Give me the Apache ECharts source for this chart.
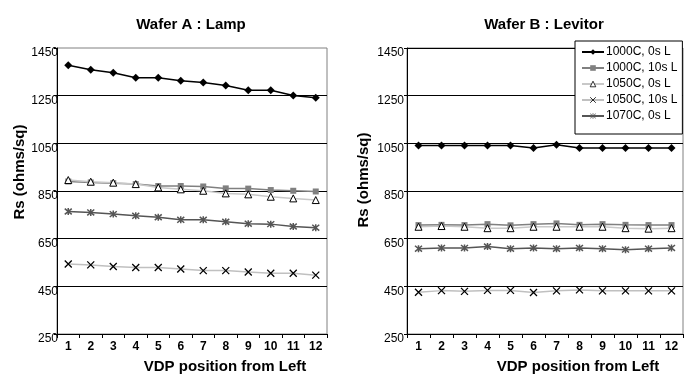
<!DOCTYPE html>
<html>
<head>
<meta charset="utf-8">
<script src="https://cdn.jsdelivr.net/npm/echarts@6/dist/echarts.min.js"></script>
<style>
  html, body { margin: 0; padding: 0; background: #fff; }
  #chart { width: 693px; height: 379px; }
</style>
</head>
<body>
<div id="chart"></div>
<script>
const positions = ["1", "2", "3", "4", "5", "6", "7", "8", "9", "10", "11", "12"];
const yTicks = [250, 450, 650, 850, 1050, 1250, 1450];
const seriesNames = ["1000C, 0s L", "1000C, 10s L", "1050C, 0s L", "1050C, 10s L", "1070C, 0s L"];

// Wafer A : Lamp
const lamp1000_0 = [1378, 1359, 1346, 1325, 1325, 1313, 1305, 1293, 1273, 1273, 1251, 1241];
const lamp1000_10 = [890, 886, 883, 879, 871, 871, 869, 861, 860, 854, 851, 848];
const lamp1050_0 = [896, 889, 885, 879, 865, 857, 851, 840, 836, 826, 819, 812];
const lamp1050_10 = [544, 540, 533, 529, 529, 523, 516, 516, 510, 505, 505, 497];
const lamp1070_0 = [764, 760, 753, 746, 740, 729, 729, 721, 713, 711, 701, 696];

// Wafer B : Levitor
const lev1000_0 = [1041, 1041, 1041, 1041, 1041, 1030, 1044, 1030, 1030, 1030, 1030, 1030];
const lev1000_10 = [707, 708, 707, 711, 706, 711, 714, 708, 711, 708, 707, 707];
const lev1050_0 = [700, 703, 700, 694, 694, 700, 700, 700, 700, 694, 692, 694];
const lev1050_10 = [425, 432, 429, 433, 433, 424, 431, 435, 431, 431, 431, 431];
const lev1070_0 = [608, 611, 611, 617, 608, 611, 608, 611, 608, 604, 608, 611];

const FONT = "'Liberation Sans', Arial, sans-serif";

const styles = [
  { symbol: "diamond", symbolSize: 8, line: "#000000", item: { color: "#000000" } },
  { symbol: "rect", symbolSize: 6, line: "#808080", item: { color: "#808080" } },
  { symbol: "triangle", symbolSize: 7, line: "#c8c8c8", item: { color: "#ffffff", borderColor: "#000000", borderWidth: 1 } },
  { symbol: "path://M0,0L10,10M10,0L0,10", symbolSize: 7, line: "#c0c0c0", item: { color: "none", borderColor: "#000000", borderWidth: 1.3 } },
  { symbol: "path://M0,0L10,10M10,0L0,10M5,-1L5,11", symbolSize: 7, line: "#555555", item: { color: "none", borderColor: "#555555", borderWidth: 1.5 } }
];

const makeSeries = (name, data, idx, style) => ({
  name: name,
  type: "line",
  xAxisIndex: idx,
  yAxisIndex: idx,
  data: data,
  symbol: style.symbol,
  symbolSize: style.symbolSize,
  lineStyle: { color: style.line, width: 1.5 },
  itemStyle: style.item,
  emphasis: { disabled: true },
  animation: false
});

const lampData = [lamp1000_0, lamp1000_10, lamp1050_0, lamp1050_10, lamp1070_0];
const levData = [lev1000_0, lev1000_10, lev1050_0, lev1050_10, lev1070_0];

const series = [];
lampData.forEach((d, i) => series.push(makeSeries(seriesNames[i], d, 0, styles[i])));
levData.forEach((d, i) => series.push(makeSeries(seriesNames[i], d, 1, styles[i])));

// thinner outlines so the small legend icons stay readable
const legendItems = seriesNames.map((name, i) => ({
  name: name,
  itemStyle: i >= 2 ? { borderWidth: 0.8 } : undefined
}));

const makeX = (gridIndex) => ({
  type: "category",
  gridIndex: gridIndex,
  data: positions,
  boundaryGap: true,
  name: "VDP position from Left",
  nameLocation: "middle",
  nameGap: 25,
  nameTextStyle: { fontFamily: FONT, fontSize: 15, fontWeight: "bold", color: "#000", padding: [0, 0, 0, 66] },
  axisLine: { lineStyle: { color: "#000", width: 1 } },
  axisTick: { show: true, length: 4, interval: 0, lineStyle: { color: "#000" } },
  axisLabel: { fontFamily: FONT, fontSize: 12, fontWeight: "bold", color: "#000", margin: 7, interval: 0 },
  splitLine: { show: false }
});

const makeY = (gridIndex, gap, shift, labelMargin, showMax) => ({
  type: "value",
  gridIndex: gridIndex,
  min: 250,
  max: 1450,
  name: "Rs (ohms/sq)",
  nameLocation: "middle",
  nameRotate: 90,
  nameGap: gap,
  nameTextStyle: { fontFamily: FONT, fontSize: 15, fontWeight: "bold", color: "#000", padding: [0, 0, 0, shift] },
  axisLine: { show: true, lineStyle: { color: "#000", width: 1 } },
  axisTick: { show: true, length: 3, customValues: yTicks, lineStyle: { color: "#000" } },
  axisLabel: {
    fontFamily: FONT, fontSize: 12, color: "#000", margin: labelMargin, customValues: yTicks,
    verticalAlign: "top", lineHeight: 10,
    formatter: (v) => String(v)
  },
  splitLine: { show: true, showMinLine: false, showMaxLine: showMax, lineStyle: { color: "#000", width: 1 } }
});

const chart = echarts.init(document.getElementById("chart"), null, { renderer: "canvas" });

chart.setOption({
  backgroundColor: "#ffffff",
  animation: false,
  title: [
    { text: "Wafer A : Lamp", left: 186, top: 12, textAlign: "center",
      textStyle: { fontFamily: FONT, fontSize: 15, fontWeight: "bold", color: "#000" } },
    { text: "Wafer B : Levitor", left: 539, top: 12, textAlign: "center",
      textStyle: { fontFamily: FONT, fontSize: 15, fontWeight: "bold", color: "#000" } }
  ],
  legend: {
    data: legendItems,
    orient: "vertical",
    left: 575,
    top: 41,
    backgroundColor: "#ffffff",
    borderColor: "#000000",
    borderWidth: 1,
    padding: [5, 5, 12, 6],
    itemGap: 4,
    itemWidth: 22,
    itemHeight: 7,
    textStyle: { fontFamily: FONT, fontSize: 12, color: "#000", padding: [0, 0, 0, -3] },
    z: 10
  },
  grid: [
    { left: 57, right: 366, top: 48, bottom: 44, show: true, borderColor: "#808080", borderWidth: 1, backgroundColor: "transparent" },
    { left: 407, right: 10, top: 48, bottom: 44, show: true, borderColor: "#808080", borderWidth: 1, backgroundColor: "transparent" }
  ],
  xAxis: [makeX(0), makeX(1)],
  yAxis: [makeY(0, 26, 38, -1, false), makeY(1, 36, 22, 3, true)],
  series: series
});
</script>
</body>
</html>
